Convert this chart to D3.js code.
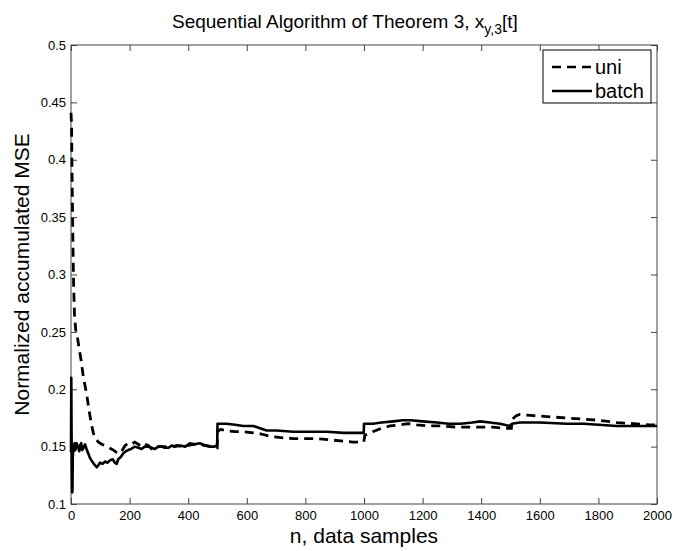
<!DOCTYPE html>
<html>
<head>
<meta charset="utf-8">
<script src="https://cdn.jsdelivr.net/npm/d3@7"></script>
<style>
  body { margin: 0; background: #fff; }
  svg { font-family: "Liberation Sans", Arial, sans-serif; }
</style>
</head>
<body>
<svg width="684" height="551"></svg>
<script>
// sample index and accumulated MSE
const uniN = [0, 2, 3, 5, 7, 9, 12, 16, 22, 28, 34, 42, 48, 55, 62, 68, 76, 84, 93, 105,
  116, 130, 145, 155, 165, 175, 185, 195, 205, 218, 230, 241, 252, 264, 275, 286, 300, 320, 340, 360,
  380, 400, 420, 440, 460, 480, 499, 500, 510, 530, 560, 590, 622, 650, 679, 710, 759, 800, 840, 880,
  920, 963, 999, 1003, 1015, 1030, 1060, 1089, 1120, 1150, 1180, 1220, 1260, 1317, 1360, 1400, 1440, 1480, 1503, 1506,
  1520, 1532, 1580, 1635, 1690, 1747, 1800, 1863, 1920, 1976, 2000];
const uniV = [0.441, 0.43, 0.40, 0.36, 0.32, 0.29, 0.265, 0.252, 0.245, 0.235, 0.226, 0.211, 0.203, 0.193, 0.181, 0.172, 0.162, 0.157, 0.154, 0.152,
  0.151, 0.149, 0.147, 0.145, 0.144, 0.147, 0.151, 0.153, 0.152, 0.154, 0.152, 0.150, 0.152, 0.151, 0.148, 0.148, 0.150, 0.150, 0.149, 0.151,
  0.150, 0.151, 0.152, 0.152, 0.151, 0.150, 0.149, 0.163, 0.165, 0.164, 0.163, 0.163, 0.162, 0.161, 0.159, 0.158, 0.157, 0.157, 0.157, 0.156,
  0.155, 0.154, 0.154, 0.160, 0.161, 0.163, 0.166, 0.168, 0.169, 0.170, 0.169, 0.168, 0.168, 0.167, 0.167, 0.167, 0.167, 0.166, 0.166, 0.174,
  0.177, 0.178, 0.177, 0.176, 0.175, 0.174, 0.173, 0.171, 0.170, 0.169, 0.169];

const batchN = [0, 1, 2, 3, 4, 5, 6, 8, 10, 12, 15, 19, 24, 28, 31, 35, 38, 43, 48, 53,
  59, 65, 70, 78, 88, 94, 99, 108, 116, 125, 133, 142, 150, 156, 161, 170, 178, 187, 195, 205,
  218, 230, 241, 252, 264, 275, 286, 298, 309, 320, 332, 345, 355, 372, 390, 406, 420, 440, 455, 474,
  490, 497, 499, 500, 520, 531, 560, 588, 622, 645, 668, 700, 759, 820, 873, 930, 986, 999, 1000, 1030,
  1060, 1100, 1133, 1160, 1200, 1249, 1290, 1330, 1370, 1396, 1430, 1464, 1498, 1505, 1532, 1600, 1692, 1750, 1800, 1863,
  1930, 2000];
const batchV = [0.145, 0.21, 0.16, 0.125, 0.11, 0.112, 0.14, 0.149, 0.146, 0.153, 0.147, 0.153, 0.150, 0.146, 0.151, 0.153, 0.147, 0.149, 0.152, 0.148,
  0.144, 0.140, 0.138, 0.135, 0.132, 0.134, 0.136, 0.135, 0.137, 0.136, 0.138, 0.139, 0.136, 0.135, 0.139, 0.141, 0.144, 0.146, 0.147, 0.148,
  0.150, 0.149, 0.148, 0.150, 0.150, 0.149, 0.148, 0.150, 0.150, 0.149, 0.149, 0.151, 0.150, 0.151, 0.150, 0.153, 0.152, 0.153, 0.151, 0.150,
  0.150, 0.151, 0.152, 0.170, 0.170, 0.170, 0.169, 0.168, 0.168, 0.166, 0.164, 0.164, 0.163, 0.163, 0.163, 0.162, 0.162, 0.162, 0.170, 0.170,
  0.171, 0.172, 0.173, 0.173, 0.172, 0.171, 0.170, 0.170, 0.171, 0.172, 0.171, 0.170, 0.168, 0.170, 0.171, 0.171, 0.170, 0.170, 0.169, 0.168,
  0.168, 0.168];

const xTicks = [0, 200, 400, 600, 800, 1000, 1200, 1400, 1600, 1800, 2000];
const yTicks = [0.1, 0.15, 0.2, 0.25, 0.3, 0.35, 0.4, 0.45, 0.5];
const seriesNames = ["uni", "batch"];

const svg = d3.select("svg");
const area = { left: 71, right: 657, top: 45, bottom: 504 };

const scX = d3.scaleLinear().domain([0, 2000]).range([area.left, area.right]);
const scY = d3.scaleLinear().domain([0.1, 0.5]).range([area.bottom, area.top]);

// оси в стиле matlab: рамка и засечки внутрь со всех сторон
const axisColor = "#444";
function styleAxis(g) {
  g.select(".domain").remove();
  g.selectAll(".tick line").attr("stroke", axisColor);
  g.selectAll(".tick text").attr("fill", "#000").style("font-size", "13px")
    .style("font-family", "Liberation Sans, Arial, sans-serif");
}

svg.append("g")
  .attr("transform", `translate(0, ${area.bottom})`)
  .call(d3.axisBottom(scX).tickValues(xTicks).tickFormat(d3.format("d")).tickSizeInner(-6).tickSizeOuter(0).tickPadding(7))
  .call(styleAxis);

svg.append("g")
  .attr("transform", `translate(0, ${area.top})`)
  .call(d3.axisTop(scX).tickValues(xTicks).tickFormat("").tickSizeInner(-6).tickSizeOuter(0))
  .call(styleAxis);

svg.append("g")
  .attr("transform", `translate(${area.left}, 0)`)
  .call(d3.axisLeft(scY).tickValues(yTicks).tickFormat(d => String(+d.toFixed(2))).tickSizeInner(-6).tickSizeOuter(0).tickPadding(5))
  .call(styleAxis);

svg.append("g")
  .attr("transform", `translate(${area.right}, 0)`)
  .call(d3.axisRight(scY).tickValues(yTicks).tickFormat("").tickSizeInner(-6).tickSizeOuter(0))
  .call(styleAxis);

svg.append("rect")
  .attr("x", area.left).attr("y", area.top)
  .attr("width", area.right - area.left).attr("height", area.bottom - area.top)
  .attr("fill", "none").attr("stroke", axisColor).attr("stroke-width", 1);

// кривые
const line = d3.line().x(d => scX(d[0])).y(d => scY(d[1]));
const uniData = uniN.map((n, i) => [n, uniV[i]]);
const batchData = batchN.map((n, i) => [n, batchV[i]]);

svg.append("path")
  .attr("d", line(batchData))
  .attr("fill", "none").attr("stroke", "#000").attr("stroke-width", 2.6)
  .attr("stroke-linejoin", "round");

svg.append("path")
  .attr("d", line(uniData))
  .attr("fill", "none").attr("stroke", "#000").attr("stroke-width", 2.8)
  .attr("stroke-dasharray", "9,6");

// легенда
const leg = svg.append("g");
leg.append("rect")
  .attr("x", 543).attr("y", 50).attr("width", 108).attr("height", 53)
  .attr("fill", "#fff").attr("stroke", "#000").attr("stroke-width", 1);
seriesNames.forEach((name, i) => {
  const y = 67 + i * 24;
  leg.append("line")
    .attr("x1", 552).attr("x2", 592).attr("y1", y).attr("y2", y)
    .attr("stroke", "#000").attr("stroke-width", 2.6)
    .attr("stroke-dasharray", i === 0 ? "9,6" : null);
  leg.append("text")
    .attr("x", 595).attr("y", y + 7)
    .style("font-size", "20px")
    .text(name);
});

// заголовок и подписи осей
const title = svg.append("text")
  .attr("x", 172).attr("y", 28)
  .style("font-size", "19px");
title.append("tspan").text("Sequential Algorithm of Theorem 3, x");
title.append("tspan").attr("dy", 6).style("font-size", "14px").text("y,3");
title.append("tspan").attr("dy", -6).text("[t]");

svg.append("text")
  .attr("x", (area.left + area.right) / 2).attr("y", 543)
  .attr("text-anchor", "middle")
  .style("font-size", "21px")
  .text("n, data samples");

svg.append("text")
  .attr("transform", `translate(29, ${(area.top + area.bottom) / 2}) rotate(-90)`)
  .attr("text-anchor", "middle")
  .style("font-size", "21px")
  .text("Normalized accumulated MSE");
</script>
</body>
</html>
